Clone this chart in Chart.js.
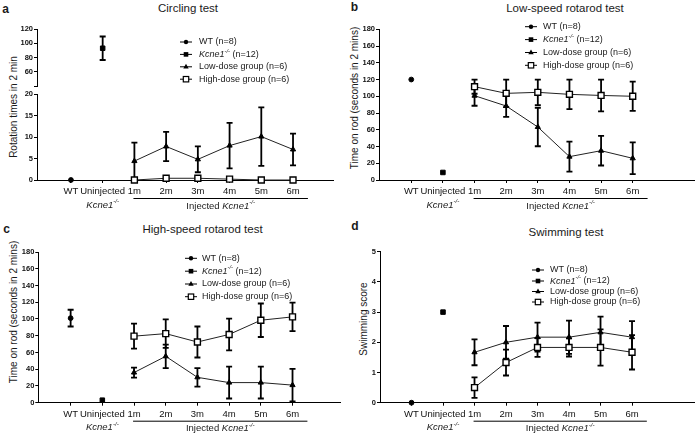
<!DOCTYPE html>
<html><head><meta charset="utf-8">
<script src="https://cdn.jsdelivr.net/npm/chart.js@4.4.0/dist/chart.umd.min.js"></script>
<style>
html,body{margin:0;padding:0;background:#fff;}
#wrap{position:relative;width:700px;height:435px;overflow:hidden;font-family:"Liberation Sans",Arial,sans-serif;color:#1a1a1a;}
canvas{position:absolute;}
.t{position:absolute;white-space:nowrap;transform:translate(-50%,-50%);line-height:1;}
.yt{position:absolute;white-space:nowrap;transform:translate(-50%,-50%) rotate(-90deg);font-size:10px;line-height:1;}
.lt{position:absolute;white-space:nowrap;transform:translate(-50%,-50%);font-weight:bold;font-size:12px;line-height:1;}
</style></head>
<body><div id="wrap">
<div class="lt" style="left:5.5px;top:8.5px">a</div>
<div class="lt" style="left:354.5px;top:7px">b</div>
<div class="lt" style="left:6.5px;top:228.5px">c</div>
<div class="lt" style="left:355px;top:226px">d</div>
<div class="t" style="left:188px;top:9px;font-size:11.5px">Circling test</div>
<div class="t" style="left:565px;top:8.5px;font-size:11.5px">Low-speed rotarod test</div>
<div class="t" style="left:202.5px;top:230px;font-size:11.5px">High-speed rotarod test</div>
<div class="t" style="left:566px;top:233px;font-size:11.5px">Swimming test</div>
<div class="yt" style="left:14px;top:107px">Rotation times in 2 min</div>
<div class="yt" style="left:355px;top:98px">Time on rod (seconds in 2 mins)</div>
<div class="yt" style="left:14px;top:312px">Time on rod (seconds in 2 mins)</div>
<div class="yt" style="left:364px;top:319px">Swimming score</div>
<canvas id="cA1" width="350" height="92" style="left:0;top:0"></canvas>
<canvas id="cA2" width="350" height="130" style="left:0;top:85px"></canvas>
<canvas id="cB" width="350" height="215" style="left:350px;top:0"></canvas>
<canvas id="cC" width="350" height="220" style="left:0;top:215px"></canvas>
<canvas id="cD" width="350" height="220" style="left:350px;top:215px"></canvas>
</div>
<script>
// ---------- data ----------
const categories = ['WT','Uninjected','1m','2m','3m','4m','5m','6m'];
const monthIdx = [2,3,4,5,6,7];
const legendLabels = ['WT (n=8)','Kcne1-/- (n=12)','Low-dose group (n=6)','High-dose group (n=6)'];

// a: Circling test
const circWT = [0],  circWTErr = [0];
const circKO = [93], circKOErr = [16.5];
const circLow = [4.4, 7.8, 4.8, 8.0, 10.1, 7.1];
const circLowErr = [4.3, 3.4, 3.0, 5.3, 6.8, 3.7];
const circHigh = [0, 0.4, 0.4, 0.2, 0, 0];
const circHighErr = [0, 0.3, 0.3, 0.3, 0, 0];
const circUpperTicks = [40, 60, 80, 100, 120];
const circLowerTicks = [0, 5, 10, 15, 20];

// b: Low-speed rotarod
const lsWT = [120], lsWTErr = [0];
const lsKO = [9],   lsKOErr = [0];
const lsLow = [100.7, 88.4, 63.3, 27.9, 35, 25.9];
const lsLowErr = [12, 13, 23, 18, 17.7, 19];
const lsHigh = [111.5, 103.5, 104.7, 102.3, 101, 100];
const lsHighErr = [8.5, 16.5, 15.3, 17.7, 19, 17.5];
const rotTicks = [0, 20, 40, 60, 80, 100, 120, 140, 160, 180];

// c: High-speed rotarod
const hsWT = [101], hsWTErr = [10];
const hsKO = [3],   hsKOErr = [0];
const hsLow = [36, 55.4, 30.3, 24, 24, 21];
const hsLowErr = [6, 14, 11, 19, 19, 19.5];
const hsHigh = [79.5, 82.5, 72.5, 81.5, 98.5, 102.5];
const hsHighErr = [15, 17, 18.5, 19, 20, 17];

// d: Swimming
const swWT = [0], swWTErr = [0];
const swKO = [3], swKOErr = [0];
const swLow = [1.67, 2.0, 2.17, 2.17, 2.33, 2.17];
const swLowErr = [0.43, 0.54, 0.48, 0.55, 0.52, 0.53];
const swHigh = [0.5, 1.33, 1.83, 1.83, 1.83, 1.67];
const swHighErr = [0.34, 0.43, 0.31, 0.3, 0.6, 0.57];
const swTicks = [0, 1, 2, 3, 4, 5];

// ---------- helpers ----------
const FONT = "'Liberation Sans', Arial, sans-serif";

function buildSets(s) {
  const out = [];
  if (s.wt) out.push({label: legendLabels[0], data: s.wt.map(v => ({x: 0, y: v})), errors: s.wtE,
    showLine: false, pointStyle: 'circle', pointRadius: 2.4, backgroundColor: '#000', borderColor: '#000', borderWidth: 1, clip: false});
  if (s.ko) out.push({label: legendLabels[1], data: s.ko.map(v => ({x: 1, y: v})), errors: s.koE,
    showLine: false, pointStyle: 'rect', pointRadius: 3.2, backgroundColor: '#000', borderColor: '#000', borderWidth: 1, clip: false});
  if (s.low) out.push({label: legendLabels[2], data: s.low.map((v, i) => ({x: monthIdx[i], y: v})), errors: s.lowE,
    showLine: true, pointStyle: 'triangle', pointRadius: 3, backgroundColor: '#000', borderColor: '#222', borderWidth: 1,
    pointBorderColor: '#000', pointBorderWidth: 1, tension: 0, clip: false});
  if (s.high) out.push({label: legendLabels[3], data: s.high.map((v, i) => ({x: monthIdx[i], y: v})), errors: s.highE,
    showLine: true, pointStyle: 'rect', pointRadius: 4.2, pointBackgroundColor: '#fff', backgroundColor: '#fff', borderColor: '#222', borderWidth: 1,
    pointBorderColor: '#000', pointBorderWidth: 1.4, tension: 0, clip: false});
  return out;
}

const errorBarPlugin = {
  id: 'errorBars',
  beforeDatasetsDraw(chart) {
    const ctx = chart.ctx, ys = chart.scales.y;
    ctx.save();
    ctx.strokeStyle = '#000';
    ctx.lineWidth = 1.8;
    chart.data.datasets.forEach((ds, di) => {
      if (!ds.errors) return;
      const meta = chart.getDatasetMeta(di);
      meta.data.forEach((pt, i) => {
        const e = ds.errors[i];
        if (!e) return;
        const v = ds.data[i].y;
        const x = pt.x;
        const yt = ys.getPixelForValue(Math.min(v + e, ys.max));
        const yb = ys.getPixelForValue(Math.max(v - e, ys.min));
        ctx.beginPath();
        ctx.moveTo(x, yt); ctx.lineTo(x, yb);
        ctx.moveTo(x - 3, yt); ctx.lineTo(x + 3, yt);
        ctx.moveTo(x - 3, yb); ctx.lineTo(x + 3, yb);
        ctx.stroke();
      });
    });
    ctx.restore();
  }
};

function drawRich(ctx, parts, x, y, align, size) {
  const fontOf = p => (p.i ? 'italic ' : '') + (p.sup ? (size * 0.65) : size) + 'px ' + FONT;
  let w = 0;
  parts.forEach(p => { ctx.font = fontOf(p); p.w = ctx.measureText(p.t).width; w += p.w; });
  let cx = align === 'center' ? x - w / 2 : x;
  ctx.textAlign = 'left';
  ctx.textBaseline = 'middle';
  parts.forEach(p => {
    ctx.font = fontOf(p);
    ctx.fillText(p.t, cx, p.sup ? y - size * 0.38 : y);
    cx += p.w;
  });
}

function drawMarker(ctx, style, x, y) {
  ctx.save();
  ctx.fillStyle = '#000'; ctx.strokeStyle = '#000'; ctx.lineWidth = 1.2;
  if (style === 'circle') { ctx.beginPath(); ctx.arc(x, y, 2.2, 0, 2 * Math.PI); ctx.fill(); }
  else if (style === 'rect') { ctx.fillRect(x - 2.3, y - 2.3, 4.6, 4.6); }
  else if (style === 'triangle') { ctx.beginPath(); ctx.moveTo(x, y - 3); ctx.lineTo(x + 2.7, y + 1.8); ctx.lineTo(x - 2.7, y + 1.8); ctx.closePath(); ctx.fill(); }
  else { ctx.fillStyle = '#fff'; ctx.fillRect(x - 2.7, y - 2.7, 5.4, 5.4); ctx.strokeRect(x - 2.7, y - 2.7, 5.4, 5.4); }
  ctx.restore();
}

function makeDecor(cfg) {
  return {
    id: 'decor',
    afterDraw(chart) {
      const ctx = chart.ctx;
      ctx.save();
      ctx.fillStyle = '#1a1a1a';
      ctx.strokeStyle = '#000';
      if (cfg.legend) {
        const L = cfg.legend;
        const styles = ['circle', 'rect', 'triangle', 'open'];
        const texts = [
          [{t: 'WT (n=8)'}],
          [{t: 'Kcne1', i: true}, {t: '-/-', sup: true, i: true}, {t: ' (n=12)'}],
          [{t: 'Low-dose group (n=6)'}],
          [{t: 'High-dose group (n=6)'}]
        ];
        L.ys.forEach((y, k) => {
          ctx.lineWidth = 1;
          ctx.beginPath(); ctx.moveTo(L.x0, y); ctx.lineTo(L.x1, y); ctx.stroke();
          drawMarker(ctx, styles[k], (L.x0 + L.x1) / 2, y);
          ctx.fillStyle = '#1a1a1a';
          drawRich(ctx, texts[k], L.tx, y, 'left', 9);
        });
      }
      if (cfg.group) {
        const xs = chart.scales.x, base = chart.chartArea.bottom;
        drawRich(ctx, [{t: 'Kcne1', i: true}, {t: '-/-', sup: true, i: true}], xs.getPixelForValue(1), base + 25, 'center', 9.5);
        const xa = xs.getPixelForValue(1.97), xb = xs.getPixelForValue(7.47);
        ctx.lineWidth = 1;
        ctx.beginPath(); ctx.moveTo(xa, base + 18.5); ctx.lineTo(xb, base + 18.5); ctx.stroke();
        drawRich(ctx, [{t: 'Injected '}, {t: 'Kcne1', i: true}, {t: '-/-', sup: true, i: true}], (xa + xb) / 2, base + 26, 'center', 9.5);
      }
      ctx.restore();
    }
  };
}

function makeChart(id, cfg) {
  const axisGrid = {display: true, drawOnChartArea: false, drawTicks: true, tickLength: 3, color: '#000', lineWidth: 1};
  return new Chart(document.getElementById(id), {
    type: 'line',
    data: {datasets: cfg.datasets},
    options: {
      responsive: false, animation: false, devicePixelRatio: 1,
      layout: {padding: cfg.padding},
      plugins: {legend: {display: false}, tooltip: {enabled: false}, title: {display: false}},
      scales: {
        x: {
          type: 'linear', min: cfg.xMin, max: cfg.xMax, display: cfg.showX,
          grid: axisGrid, border: {display: true, color: '#000', width: 1},
          ticks: {autoSkip: false, maxRotation: 0, minRotation: 0, padding: 3, color: '#111',
            font: {family: FONT, size: 9.5}, callback: v => categories[Math.round(v)] || ''},
          afterBuildTicks: s => { s.ticks = categories.map((c, i) => ({value: i})); },
          afterFit: s => { s.height = cfg.xHeight; }
        },
        y: {
          type: 'linear', min: cfg.yMin, max: cfg.yMax,
          grid: axisGrid, border: {display: true, color: '#000', width: 1},
          ticks: {padding: 1, color: '#111', font: {family: FONT, size: 7.5, weight: 'bold'},
            callback: v => (cfg.hideTick && cfg.hideTick.includes(v)) ? '' : String(v)},
          afterBuildTicks: s => { s.ticks = cfg.yTicks.map(v => ({value: v})); },
          afterFit: s => { s.width = cfg.yWidth; }
        }
      }
    },
    plugins: [errorBarPlugin, makeDecor(cfg)]
  });
}

// ---------- panel a (broken axis: two stacked charts) ----------
makeChart('cA1', {
  datasets: buildSets({ko: circKO, koE: circKOErr}),
  padding: {left: 0, right: 17, top: 29, bottom: 6}, yWidth: 37, xHeight: 0, showX: false,
  xMin: -1.07, xMax: 8.26, yMin: 40, yMax: 120, yTicks: circUpperTicks, hideTick: [40],
  legend: {x0: 180, x1: 192, tx: 199, ys: [42, 54.4, 66.8, 79.2]}
});
makeChart('cA2', {
  datasets: buildSets({wt: circWT, wtE: circWTErr, low: circLow, lowE: circLowErr, high: circHigh, highE: circHighErr}),
  padding: {left: 0, right: 17, top: 9, bottom: 0}, yWidth: 37, xHeight: 35, showX: true,
  xMin: -1.07, xMax: 8.26, yMin: 0, yMax: 20, yTicks: circLowerTicks, group: true
});
// ---------- panel b ----------
makeChart('cB', {
  datasets: buildSets({wt: lsWT, wtE: lsWTErr, ko: lsKO, koE: lsKOErr, low: lsLow, lowE: lsLowErr, high: lsHigh, highE: lsHighErr}),
  padding: {left: 0, right: 2, top: 29.3, bottom: 0}, yWidth: 29, xHeight: 35, showX: true,
  xMin: -1.02, xMax: 8.95, yMin: 0, yMax: 180, yTicks: rotTicks, group: true,
  legend: {x0: 175, x1: 187, tx: 193, ys: [26.7, 39.6, 52.5, 65.3]}
});
// ---------- panel c ----------
makeChart('cC', {
  datasets: buildSets({wt: hsWT, wtE: hsWTErr, ko: hsKO, koE: hsKOErr, low: hsLow, lowE: hsLowErr, high: hsHigh, highE: hsHighErr}),
  padding: {left: 0, right: 9.3, top: 37, bottom: 0}, yWidth: 38.3, xHeight: 32.3, showX: true,
  xMin: -1.02, xMax: 8.52, yMin: 0, yMax: 180, yTicks: rotTicks, group: true,
  legend: {x0: 185, x1: 197, tx: 202, ys: [43.3, 56.2, 69, 81.7]}
});
// ---------- panel d ----------
makeChart('cD', {
  datasets: buildSets({wt: swWT, wtE: swWTErr, ko: swKO, koE: swKOErr, low: swLow, lowE: swLowErr, high: swHigh, highE: swHighErr}),
  padding: {left: 0, right: 2, top: 36.7, bottom: 0}, yWidth: 30, xHeight: 32.3, showX: true,
  xMin: -1.0, xMax: 8.98, yMin: 0, yMax: 5, yTicks: swTicks, group: true,
  legend: {x0: 182, x1: 194, tx: 200, ys: [55, 66, 76.5, 87]}
});
</script>
</body></html>
